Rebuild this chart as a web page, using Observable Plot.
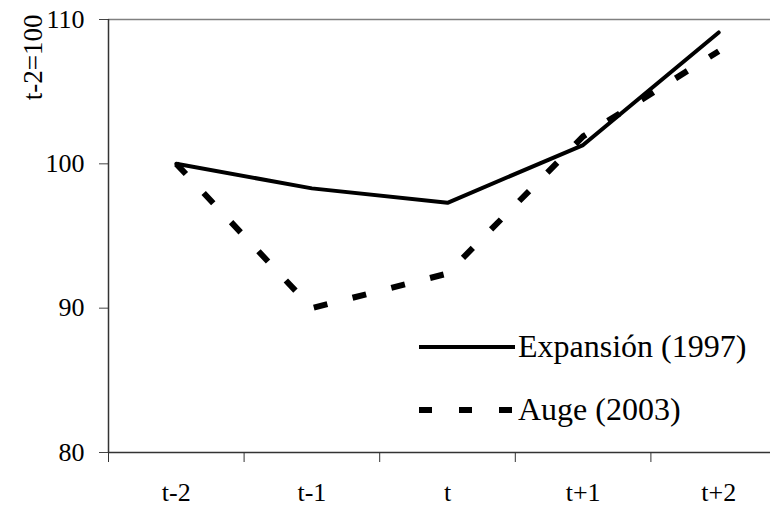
<!DOCTYPE html>
<html>
<head>
<meta charset="utf-8">
<script src="https://cdn.jsdelivr.net/npm/d3@7"></script>
<script src="https://cdn.jsdelivr.net/npm/@observablehq/plot@0.6"></script>
<style>
  html, body { margin: 0; padding: 0; background: #fff; overflow: hidden; }
  #wrap { position: relative; width: 770px; height: 507px; }
  #chart text { font-family: "Liberation Serif", serif !important; font-size: 26px !important; fill: #000; }
  #chart text.ylab { font-size: 27px !important; }
  #legend { position: absolute; left: 0; top: 0; pointer-events: none; }
  #legend text { font-family: "Liberation Serif", serif; font-size: 32px; fill: #000; }
</style>
</head>
<body>
<div id="wrap"></div>
<script>
// Data
const periods = ["t-2", "t-1", "t", "t+1", "t+2"];
const expansion = [100, 98.3, 97.3, 101.3, 109.1];
const auge = [100, 90.0, 92.4, 101.9, 107.8];
const yTicks = [80, 90, 100, 110];
const seriesNames = ["Expansión (1997)", "Auge (2003)"];
const yLabel = "t-2=100";

const idx = periods.map((_, i) => i);
const expData = periods.map((p, i) => ({i, p, v: expansion[i]}));
const augeData = periods.map((p, i) => ({i, p, v: auge[i]}));
const boundaries = idx.slice(0, -1).map(i => i - 0.5).concat([periods.length - 1.5]);

const chart = Plot.plot({
  width: 770,
  height: 507,
  marginLeft: 108,
  marginRight: 0,
  marginTop: 19,
  marginBottom: 55,
  style: {fontFamily: "Liberation Serif, serif", fontSize: "26px", color: "#000", background: "#fff", overflow: "hidden"},
  x: {type: "linear", domain: [-0.5, periods.length - 0.5], range: [108, 786]},
  y: {domain: [80, 110]},
  marks: [
    Plot.ruleY([110], {stroke: "#808080", strokeWidth: 1.5}),
    Plot.axisY({ticks: yTicks, tickSize: 9, tickPadding: 15, label: null, stroke: "#444"}),
    Plot.axisX({ticks: boundaries, tickSize: 10, tickFormat: () => "", label: null, stroke: "#333"}),
    Plot.axisX({ticks: idx, tickSize: 0, tickPadding: 30, tickFormat: i => periods[i], label: null}),
    Plot.ruleX([-0.5], {stroke: "#333", strokeWidth: 1.5}),
    Plot.ruleY([80], {stroke: "#333", strokeWidth: 1.5}),
    Plot.line(augeData, {x: "i", y: "v", stroke: "#000", strokeWidth: 6, strokeDasharray: "14,26", strokeLinecap: "butt"}),
    Plot.line(expData, {x: "i", y: "v", stroke: "#000", strokeWidth: 4, strokeLinejoin: "miter"}),
    Plot.text([yLabel], {frameAnchor: "top-left", rotate: -90, textAnchor: "end", dx: -86, dy: -5, fill: "#000", className: "ylabmark"})
  ]
});
chart.setAttribute("id", "chart");
chart.querySelectorAll("g.ylabmark text, g[aria-label='text'] text").forEach(t => t.classList.add("ylab"));
document.getElementById("wrap").appendChild(chart);

// Legend overlay (inside plot area, as in the reference)
const ns = "http://www.w3.org/2000/svg";
const leg = document.createElementNS(ns, "svg");
leg.setAttribute("id", "legend");
leg.setAttribute("width", 770);
leg.setAttribute("height", 507);
const items = [
  {name: seriesNames[0], y: 347, width: 4, dash: null},
  {name: seriesNames[1], y: 410, width: 6, dash: "13,27"}
];
for (const it of items) {
  const l = document.createElementNS(ns, "line");
  l.setAttribute("x1", 419); l.setAttribute("x2", 515);
  l.setAttribute("y1", it.y); l.setAttribute("y2", it.y);
  l.setAttribute("stroke", "#000");
  l.setAttribute("stroke-width", it.width);
  if (it.dash) l.setAttribute("stroke-dasharray", it.dash);
  leg.appendChild(l);
  const t = document.createElementNS(ns, "text");
  t.setAttribute("x", 518);
  t.setAttribute("y", it.y + 10);
  t.textContent = it.name;
  leg.appendChild(t);
}
document.getElementById("wrap").appendChild(leg);
</script>
</body>
</html>
